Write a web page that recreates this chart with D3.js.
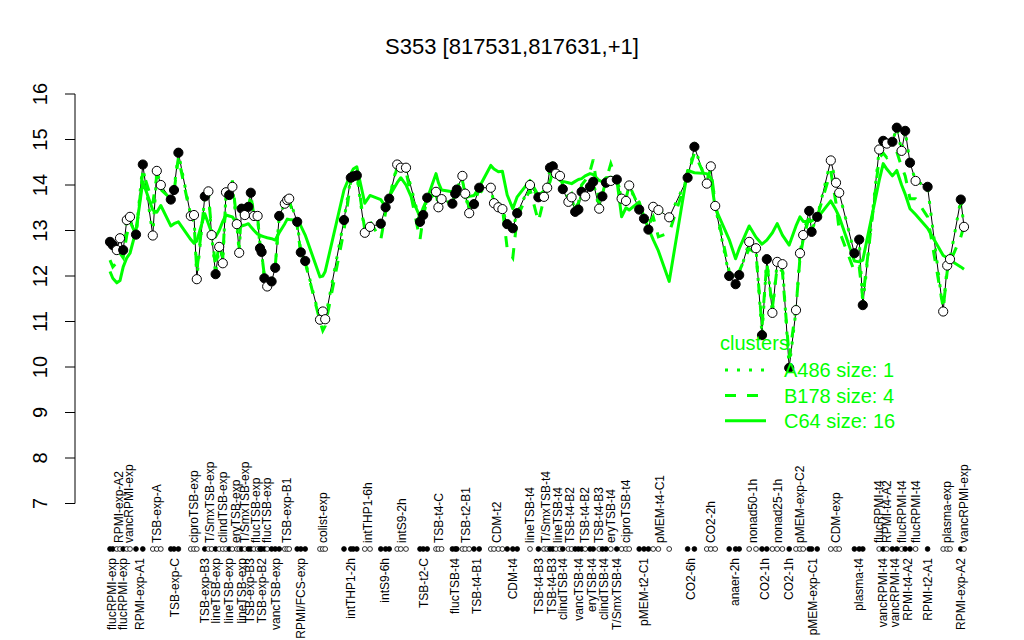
<!DOCTYPE html>
<html><head><meta charset="utf-8">
<script src="https://cdn.jsdelivr.net/npm/d3@7"></script>
<style>
body{margin:0;background:#fff}
svg{display:block;font-family:"Liberation Sans",Arial,Helvetica,sans-serif}
</style>
</head><body>
<svg id="chart" width="1024" height="640"></svg>
<script>
// ---------------- data ----------------
const title = "S353 [817531,817631,+1]";
const yTicks = [7, 8, 9, 10, 11, 12, 13, 14, 15, 16];

const groupLabels = [
 "flucRPMI-exp","RPMI-exp-A2","flucRPMI-exp","vancRPMI-exp","RPMI-exp-A1","TSB-exp-A","TSB-exp-C","ciproTSB-exp",
 "TSB-exp-B3","T/SmxTSB-exp","lineTSB-exp","clindTSB-exp","lineTSB-exp","eryTSB-exp","lineTSB-exp","T/SmxTSB-exp",
 "TSB-exp-B3","flucTSB-exp","TSB-exp-B2","flucTSB-exp","vancTSB-exp","TSB-exp-B1","RPMI/FCS-exp","colist-exp",
 "intTHP1-2h","intTHP1-6h","intS9-6h","intS9-2h","TSB-t2-C","TSB-t4-C","flucTSB-t4","TSB-t2-B1",
 "TSB-t4-B1","CDM-t2","CDM-t4","lineTSB-t4","TSB-t4-B3","T/SmxTSB-t4","TSB-t4-B3","lineTSB-t4",
 "clindTSB-t4","TSB-t4-B2","vancTSB-t4","TSB-t4-B2","eryTSB-t4","TSB-t4-B3","clindTSB-t4","eryTSB-t4",
 "T/SmxTSB-t4","ciproTSB-t4","pMEM-t2-C1","pMEM-t4-C1","CO2-6h","CO2-2h","anaer-2h","nonad50-1h",
 "CO2-1h","nonad25-1h","CO2-1h","pMEM-exp-C2","pMEM-exp-C1","CDM-exp","plasma-t4","flucRPMI-t4",
 "vancRPMI-t4","RPMI-t4-A2","vancRPMI-t4","flucRPMI-t4","RPMI-t4-A2","flucRPMI-t4","RPMI-t2-A1","plasma-exp",
 "RPMI-exp-A2","vancRPMI-exp"
];

// sample order position of each replicate (x value)
const groupX = [
 [1.5,2.2],[3.2,4.0],[4.8],[5.7,6.5],[8.0,9.7],[12.2,13.2,14.2],[16.7,17.5,18.6],[21.7,22.5,23.2],
 [25.2],[26.1,26.9],[27.9],[28.8,29.7,30.5],[31.3],[32.1,33.2,33.8],[34.4],[35.2],
 [36.1,36.7],[37.5,38.4],[39.0,39.4,40.1],[40.8],[41.9,42.8,43.8],[45.2,45.8,46.3],[48.3,49.2,50.3],[54.0,54.7,55.3],
 [60.0,61.7,62.3,63.2],[65.2,66.5],[69.2,70.4,71.3],[73.3,74.2,75.5],[79.0,79.8,80.8],[83.0,83.6,84.4],[87.1,87.8,88.2],[89.6,90.3,91.3],
 [92.5,93.8],[96.7,97.5,98.6,99.6],[100.8,102.2,103.3],[106.5],[108.6],[110.0,110.8],[111.5,112.2],[113.0,114.0],
 [114.7],[116.1,116.9],[117.8,118.6,119.4],[120.3],[121.5,122.3],[123.8],[124.6,125.5],[126.7],
 [128.2],[129.4,130.5,131.3],[133.8,135.0,136.1],[137.3,138.6,141.3],[145.9,147.6],[150.7,151.7,152.8],[156.3,157.9,158.8],[161.3,163.0],
 [164.5,165.7],[167.1,168.3,169.6],[171.3],[173.0,174.0,174.8],[176.3,176.9,178.3],[181.7,183.0,183.8],[187.6,188.8,189.7],[193.8],
 [194.8],[195.7],[197.1,198.2],[199.4],[200.3,201.5],[202.9],[205.9],[209.8,210.8,211.5],
 [214.2],[215.0]
];

// expression values of this probe
const groupValues = [
 [12.75,12.68],[12.57,12.83],[12.57],[13.23,13.30],[12.91,14.45],[12.89,14.31,14.00],[13.68,13.89,14.71],[13.32,13.34,11.93],
 [13.75],[13.86,12.90],[12.04],[12.64,12.28,13.84],[13.78],[13.96,13.14,12.51],[13.48],[13.34],
 [13.52,13.83],[13.32,13.32],[12.61,12.53,11.95],[11.77],[11.88,12.18,13.32],[13.59,13.67,13.70],[13.19,12.52,12.33],[11.04,11.22,11.05],
 [13.23,14.16,14.19,14.21],[12.95,13.08],[13.15,13.51,13.70],[14.45,14.38,14.38],[13.19,13.34,13.72],[13.85,13.51,13.69],[13.59,13.81,13.90],[14.20,13.81,13.38],
 [13.58,13.94],[13.94,13.60,13.51,13.47],[13.14,13.05,13.38],[14.00],[13.73],[13.74,13.94],[14.38,14.41],[14.25,14.20],
 [13.91],[13.63,13.73],[13.41,13.46,13.85],[13.75],[13.96,14.07],[13.48],[13.75,14.05],[14.09],
 [14.12],[13.70,13.65,13.99],[13.46,13.26,13.02],[13.52,13.45,13.29],[14.16,14.84],[14.03,14.41,13.54],[12.00,11.82,12.02],[12.75,12.61],
 [10.70,12.37],[11.19,12.31,12.26],[9.98],[11.25,12.50,12.90],[13.43,12.97,13.30],[14.54,14.05,13.83],[12.50,12.80,11.36],[14.78],
 [14.97],[14.91],[14.95,15.26],[14.75],[15.19,14.49],[14.09],[13.96],[11.22,12.23,12.37],
 [13.68],[13.08]
];

// cluster A486 has size 1: its profile is this probe's own profile
const clusterA486 = groupValues;

const clusterB178 = [
 [12.35,12.2],[12.3,12.5],[12.4],[12.9,13.2],[12.9,14.3],[13.6,14.2,13.9],[13.7,13.85,14.6],[13.3,13.2,12.1],
 [13.7],[13.8,13.0],[12.2],[12.7,12.4,13.8],[13.75],[14.1,13.2,12.6],[13.5],[13.3],
 [13.5,13.8],[13.3,13.3],[12.7,12.5,12.0],[11.8],[11.9,12.2,13.3],[13.5,13.6,13.65],[13.1,12.5,12.3],[11.0,10.8,10.9],
 [13.0,14.1,14.3,14.3],[13.0,13.2],[12.8,13.4,13.7],[14.4,14.4,14.3],[12.8,13.3,13.7],[13.8,13.5,13.7],[13.6,13.8,13.9],[14.1,13.8,13.5],
 [13.6,13.9],[13.7,13.6,13.6,13.5],[12.6,12.4,13.3],[13.9],[13.2],[13.7,13.9],[14.3,14.45],[14.3,14.2],
 [14.0],[13.7,13.8],[13.5,13.6,14.0],[14.1],[14.3,14.56],[13.6],[13.8,14.1],[14.47],
 [14.1],[13.8,13.7,14.0],[13.5,13.3,13.1],[13.3,12.86,12.95],[14.2,14.7],[14.1,14.35,13.6],[12.1,11.9,12.1],[12.6,12.5],
 [10.9,12.3],[11.3,12.2,12.1],[10.2],[11.3,12.4,12.8],[13.3,13.0,13.3],[14.3,13.6,13.0],[12.1,12.2,11.5],[14.6],
 [14.7],[14.6],[14.7,14.73],[14.4],[14.2,13.7],[13.7],[13.3],[11.3,12.1,12.3],
 [12.86],[13.1]
];

const clusterC64 = [
 [12.1,11.95],[11.85,11.9],[12.2],[12.4,12.5],[13.0,14.07],[13.45,13.4,13.55],[13.1,13.15,13.19],[12.8,12.72,12.77],
 [13.37],[13.15,12.95],[12.86],[13.0,13.2,13.34],[13.32],[13.3,13.15,13.08],[13.1],[13.12],
 [13.15,13.08],[13.0,12.92],[12.9,12.88,12.86],[12.84],[12.82,12.79,12.95],[13.15,13.25,13.24],[13.22,13.1,12.9],[11.98,12.0,12.1],
 [13.89,14.25,14.35,14.4],[13.6,13.77],[13.68,13.52,13.75],[14.05,14.16,14.0],[13.3,13.5,13.7],[14.25,14.05,13.89],[13.85,13.84,13.84],[13.8,13.72,13.75],
 [13.77,13.95],[14.43,14.35,14.29,14.3],[13.78,13.48,13.74],[14.1],[13.77],[13.87,13.95],[14.07,14.3],[14.2,14.1],
 [14.08],[14.05,14.03],[14.08,14.12,14.14],[14.2],[14.25,14.23],[14.1],[14.07,14.16],[14.17],
 [14.12],[13.3,13.5,13.45],[13.63,13.3,13.05],[12.8,12.55,11.88],[14.32,14.27],[14.25,14.16,13.5],[12.8,12.38,12.6],[13.1,12.85],
 [12.7,12.79],[12.95,13.15,12.9],[12.68],[13.1,13.3,13.2],[13.2,13.21,13.27],[13.65,13.45,13.3],[12.33,12.31,12.35],[14.1],
 [14.47],[14.35],[14.2,14.32],[14.0],[13.8,13.48],[13.35],[13.05],[12.45,12.4,12.35],
 [12.2],[12.15]
];

const clusterNames = ["A486 size: 1", "B178 size: 4", "C64 size: 16"];

// ---------------- drawing ----------------
const GREEN = "#00ff00";
const svg = d3.select("#chart");
const x = d3.scaleLinear().domain([0, 216]).range([104, 968]);
const y = d3.scaleLinear().domain([7, 16]).range([503.5, 94]);

const pts = [];
groupX.forEach((xs, g) => xs.forEach((u, j) => pts.push({
  g, u, v: groupValues[g][j], a: clusterA486[g][j], b: clusterB178[g][j], c: clusterC64[g][j], filled: g % 2 === 0
})));

// title
svg.append("text").attr("x", 512).attr("y", 54).attr("text-anchor", "middle")
  .style("font-size", "22px").text(title);

// y axis
const yAxis = svg.append("g");
yAxis.append("line").attr("x1", 75).attr("x2", 75).attr("y1", y(7)).attr("y2", y(16))
  .attr("stroke", "#000").attr("stroke-width", 1);
yAxis.selectAll("line.tick").data(yTicks).join("line").attr("class", "tick")
  .attr("x1", 65).attr("x2", 75).attr("y1", d => y(d)).attr("y2", d => y(d))
  .attr("stroke", "#000").attr("stroke-width", 1);
yAxis.selectAll("text").data(yTicks).join("text")
  .attr("transform", d => `translate(47,${y(d)}) rotate(-90)`)
  .attr("text-anchor", "middle").style("font-size", "20px").text(d => d);

// black data line
const lineV = d3.line().x(d => x(d.u)).y(d => y(d.v));
svg.append("path").datum(pts).attr("d", lineV).attr("fill", "none")
  .attr("stroke", "#000").attr("stroke-width", 1);

// cluster lines
const lineC = d3.line().x(d => x(d.u)).y(d => y(d.c));
const lineB = d3.line().x(d => x(d.u)).y(d => y(d.b));
const lineA = d3.line().x(d => x(d.u)).y(d => y(d.a));
svg.append("path").datum(pts).attr("d", lineC).attr("fill", "none")
  .attr("stroke", GREEN).attr("stroke-width", 3).attr("stroke-linejoin", "round");
svg.append("path").datum(pts).attr("d", lineB).attr("fill", "none")
  .attr("stroke", GREEN).attr("stroke-width", 3).attr("stroke-dasharray", "11,11");
svg.append("path").datum(pts).attr("d", lineA).attr("fill", "none")
  .attr("stroke", GREEN).attr("stroke-width", 3).attr("stroke-dasharray", "3,9");

// points
svg.append("g").selectAll("circle").data(pts).join("circle")
  .attr("cx", d => x(d.u)).attr("cy", d => y(d.v)).attr("r", 4.6)
  .attr("fill", d => d.filled ? "#000" : "#fff").attr("stroke", "#000").attr("stroke-width", 1);

// sample strip
const stripY = 549;
svg.append("g").selectAll("circle").data(pts).join("circle")
  .attr("cx", d => x(d.u)).attr("cy", stripY).attr("r", 2.4)
  .attr("fill", d => d.filled ? "#000" : "#fff").attr("stroke", "#000").attr("stroke-width", 0.8);

// group labels
const groupCenters = groupX.map(xs => d3.mean(xs));
svg.append("g").selectAll("text").data(groupLabels).join("text")
  .attr("transform", (d, i) => i % 2 === 0
     ? `translate(${x(groupCenters[i])},558) rotate(-90)`
     : `translate(${x(groupCenters[i])},543) rotate(-90)`)
  .attr("text-anchor", (d, i) => i % 2 === 0 ? "end" : "start")
  .attr("dy", "0.35em")
  .style("font-size", "12px").text(d => d);

// legend
const lg = svg.append("g");
lg.append("text").attr("x", 720).attr("y", 350).attr("fill", GREEN).style("font-size", "20px").text("clusters");
const dashes = ["3,9", "11,11", null];
clusterNames.forEach((name, i) => {
  const ly = 370 + i * 25.4;
  const l = lg.append("line").attr("x1", 725).attr("x2", 766).attr("y1", ly).attr("y2", ly)
    .attr("stroke", GREEN).attr("stroke-width", 3);
  if (dashes[i]) l.attr("stroke-dasharray", dashes[i]);
  lg.append("text").attr("x", 784).attr("y", ly + 7.3).attr("fill", GREEN)
    .style("font-size", "20px").text(name);
});
</script>
</body></html>
